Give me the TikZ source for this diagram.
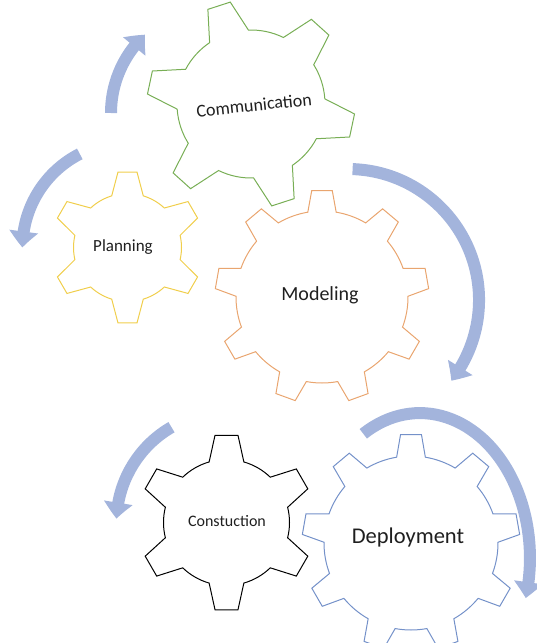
\documentclass[tikz,border=0pt]{standalone}
\usepackage{fontspec}
\setmainfont{Carlito}
\usetikzlibrary{arrows.meta,bending}

\definecolor{commgreen}{HTML}{78AE55}
\definecolor{modelorange}{HTML}{E9A56F}
\definecolor{planyellow}{HTML}{F0CE4C}
\definecolor{deployblue}{HTML}{7491C9}
\definecolor{cyclearrow}{HTML}{A3B4DC}

\tikzset{
    gear/.style={line width=1pt, line join=miter},
    cyclearc/.style={cyclearrow, line width=12pt,
        -{Triangle[width=28pt,length=16pt,bend]}},
    gearlabel/.style={inner sep=0pt, text=black!88},
}

% #1 teeth, #2 outer radius, #3 root radius, #4 half tip angle, #5 half root angle, #6 first tooth angle
\newcommand{\gearpath}[6]{%
    (#6-#5:#3pt)
    \foreach \k [evaluate=\k as \a using #6+(\k-1)*360/#1,
                 evaluate=\k as \sa using #6+(\k-1)*360/#1+#5,
                 evaluate=\k as \ea using #6+\k*360/#1-#5] in {1,...,#1} {
        -- (\a-#4:#2pt) -- (\a+#4:#2pt) -- (\a+#5:#3pt)
        arc[start angle=\sa, end angle=\ea, radius=#3pt]
    } -- cycle
}

\begin{document}
\begin{tikzpicture}[x=1pt, y=1pt]
    \useasboundingbox (0,0) rectangle (537,-643);

    % gear centres
    \coordinate (comm) at (251,-104);
    \coordinate (plan) at (127.5,-247.5);
    \coordinate (model) at (322,-297);
    \coordinate (constr) at (226.5,-522.5);
    \coordinate (deploy) at (411,-543);

    % gears
    \draw[gear, commgreen, shift={(comm)}] \gearpath{6}{104}{74}{6.5}{16}{108};
    \draw[gear, planyellow, shift={(plan)}] \gearpath{6}{76}{54}{7.2}{17}{90};
    \draw[gear, modelorange, shift={(model)}] \gearpath{9}{107}{86}{5.5}{9.5}{90};
    \draw[gear, black, shift={(constr)}] \gearpath{6}{88}{63}{7.5}{16}{90};
    \draw[gear, deployblue, shift={(deploy)}] \gearpath{9}{109}{87}{5.5}{9.5}{90};

    % labels
    \node[gearlabel, font=\fontsize{18}{22}\selectfont, rotate=6] (commtext) at (254,-105) {Communication};
    \node[gearlabel, font=\fontsize{17}{20}\selectfont] (plantext) at (123,-247) {Planning};
    \node[gearlabel, font=\fontsize{20}{24}\selectfont] (modeltext) at (320,-295) {Modeling};
    \node[gearlabel, font=\fontsize{16}{19}\selectfont] (constrtext) at (227,-521) {Constuction};
    \node[gearlabel, font=\fontsize{22.5}{27}\selectfont] (deploytext) at (408,-537) {Deployment};

    % cycle arrows
    \draw[cyclearc] (111,-113) arc[start angle=180, end angle=133, radius=107];
    \draw[cyclearc] (79.8,-153.9) arc[start angle=117, end angle=180, radius=105];
    \draw[cyclearc] (352.6,-169.1) arc[start angle=88, end angle=-38, radius=131];
    \draw[cyclearc] (363.3,-433.8) arc[start angle=121, end angle=-16, x radius=110, y radius=145];
    \draw[cyclearc] (171.5,-427.2) arc[start angle=120, end angle=178, radius=110];
\end{tikzpicture}
\end{document}
